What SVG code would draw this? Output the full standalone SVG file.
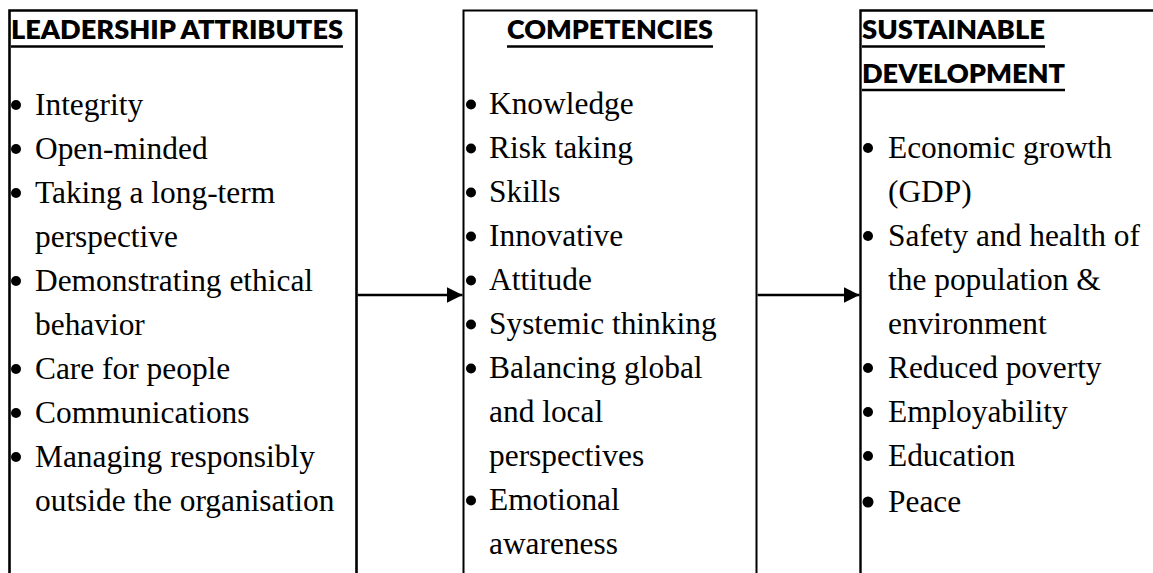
<svg xmlns="http://www.w3.org/2000/svg" width="1153" height="573" viewBox="0 0 1153 573">
  <style>
    .box { fill: #ffffff; stroke: #000000; }
    .head { font-family: Lato, "Open Sans", "Liberation Sans", sans-serif; font-weight: 800; font-size: 25.5px; fill: #000000; }
    .uline { stroke: #000000; stroke-width: 2.5; }
    .item { font-family: "Liberation Serif", "Times New Roman", serif; font-size: 31.4px; fill: #000000; }
    .dot { fill: #000000; }
    .link { stroke: #000000; stroke-width: 2.5; fill: none; }
  </style>
  <defs>
    <marker id="arrowhead" markerWidth="16" markerHeight="16" refX="16" refY="8" orient="auto" markerUnits="userSpaceOnUse">
      <path d="M0,0 L16,8 L0,16 Z" fill="#000000"/>
    </marker>
  </defs>

  <rect width="1153" height="573" fill="#ffffff"/>

  <!-- Leadership attributes -->
  <g id="leadership-attributes">
    <path class="box" stroke-width="2.6" d="M9.5,580 V10.5 H356.5 V580"/>
    <text class="head" x="11" y="38.5" textLength="332" lengthAdjust="spacingAndGlyphs">LEADERSHIP ATTRIBUTES</text>
    <line class="uline" x1="11" y1="46.5" x2="343" y2="46.5"/>
    <g>
      <circle class="dot" cx="16" cy="105" r="5"/>
      <circle class="dot" cx="16" cy="149" r="5"/>
      <circle class="dot" cx="16" cy="193" r="5"/>
      <circle class="dot" cx="16" cy="281" r="5"/>
      <circle class="dot" cx="16" cy="369" r="5"/>
      <circle class="dot" cx="16" cy="413" r="5"/>
      <circle class="dot" cx="16" cy="457" r="5"/>
    </g>
    <text class="item" x="35" y="114.5">Integrity</text>
    <text class="item" x="35" y="158.5">Open-minded</text>
    <text class="item" x="35" y="202.5">Taking a long-term</text>
    <text class="item" x="35" y="246.5">perspective</text>
    <text class="item" x="35" y="290.5">Demonstrating ethical</text>
    <text class="item" x="35" y="334.5">behavior</text>
    <text class="item" x="35" y="378.5">Care for people</text>
    <text class="item" x="35" y="422.5">Communications</text>
    <text class="item" x="35" y="466.5">Managing responsibly</text>
    <text class="item" x="35" y="510.5">outside the organisation</text>
  </g>

  <!-- Competencies -->
  <g id="competencies">
    <path class="box" stroke-width="2" d="M463.5,580 V10.5 H756.5 V580"/>
    <text class="head" x="507" y="38.5" textLength="206" lengthAdjust="spacingAndGlyphs">COMPETENCIES</text>
    <line class="uline" x1="507" y1="46.5" x2="713" y2="46.5"/>
    <g>
      <circle class="dot" cx="471" cy="104.5" r="5"/>
      <circle class="dot" cx="471" cy="148.5" r="5"/>
      <circle class="dot" cx="471" cy="192.5" r="5"/>
      <circle class="dot" cx="471" cy="236.5" r="5"/>
      <circle class="dot" cx="471" cy="280.5" r="5"/>
      <circle class="dot" cx="471" cy="324.5" r="5"/>
      <circle class="dot" cx="471" cy="368.5" r="5"/>
      <circle class="dot" cx="471" cy="500.5" r="5"/>
    </g>
    <text class="item" x="489" y="114">Knowledge</text>
    <text class="item" x="489" y="158">Risk taking</text>
    <text class="item" x="489" y="202">Skills</text>
    <text class="item" x="489" y="246">Innovative</text>
    <text class="item" x="489" y="290">Attitude</text>
    <text class="item" x="489" y="334">Systemic thinking</text>
    <text class="item" x="489" y="378">Balancing global</text>
    <text class="item" x="489" y="422">and local</text>
    <text class="item" x="489" y="466">perspectives</text>
    <text class="item" x="489" y="510">Emotional</text>
    <text class="item" x="489" y="554">awareness</text>
  </g>

  <!-- Sustainable development -->
  <g id="sustainable-development">
    <path class="box" stroke-width="2.4" d="M860.5,580 V10.5 H1160"/>
    <text class="head" x="862" y="38.5" textLength="183" lengthAdjust="spacingAndGlyphs">SUSTAINABLE</text>
    <line class="uline" x1="862" y1="46.5" x2="1045" y2="46.5"/>
    <text class="head" x="862" y="83" textLength="203" lengthAdjust="spacingAndGlyphs">DEVELOPMENT</text>
    <line class="uline" x1="862" y1="90" x2="1065" y2="90"/>
    <g>
      <circle class="dot" cx="868" cy="148" r="5"/>
      <circle class="dot" cx="868" cy="236" r="5"/>
      <circle class="dot" cx="868" cy="368" r="5"/>
      <circle class="dot" cx="868" cy="412" r="5"/>
      <circle class="dot" cx="868" cy="456" r="5"/>
      <circle class="dot" cx="868" cy="502" r="5.5"/>
    </g>
    <text class="item" x="888" y="157.5">Economic growth</text>
    <text class="item" x="888" y="201.5">(GDP)</text>
    <text class="item" x="888" y="245.5">Safety and health of</text>
    <text class="item" x="888" y="289.5">the population &amp;</text>
    <text class="item" x="888" y="333.5">environment</text>
    <text class="item" x="888" y="377.5">Reduced poverty</text>
    <text class="item" x="888" y="421.5">Employability</text>
    <text class="item" x="888" y="465.5">Education</text>
    <text class="item" x="888" y="512">Peace</text>
  </g>

  <!-- Connectors -->
  <g id="connectors">
    <line class="link" x1="357.5" y1="295" x2="462.5" y2="295" marker-end="url(#arrowhead)"/>
    <line class="link" x1="757.5" y1="295" x2="859.5" y2="295" marker-end="url(#arrowhead)"/>
  </g>
</svg>
